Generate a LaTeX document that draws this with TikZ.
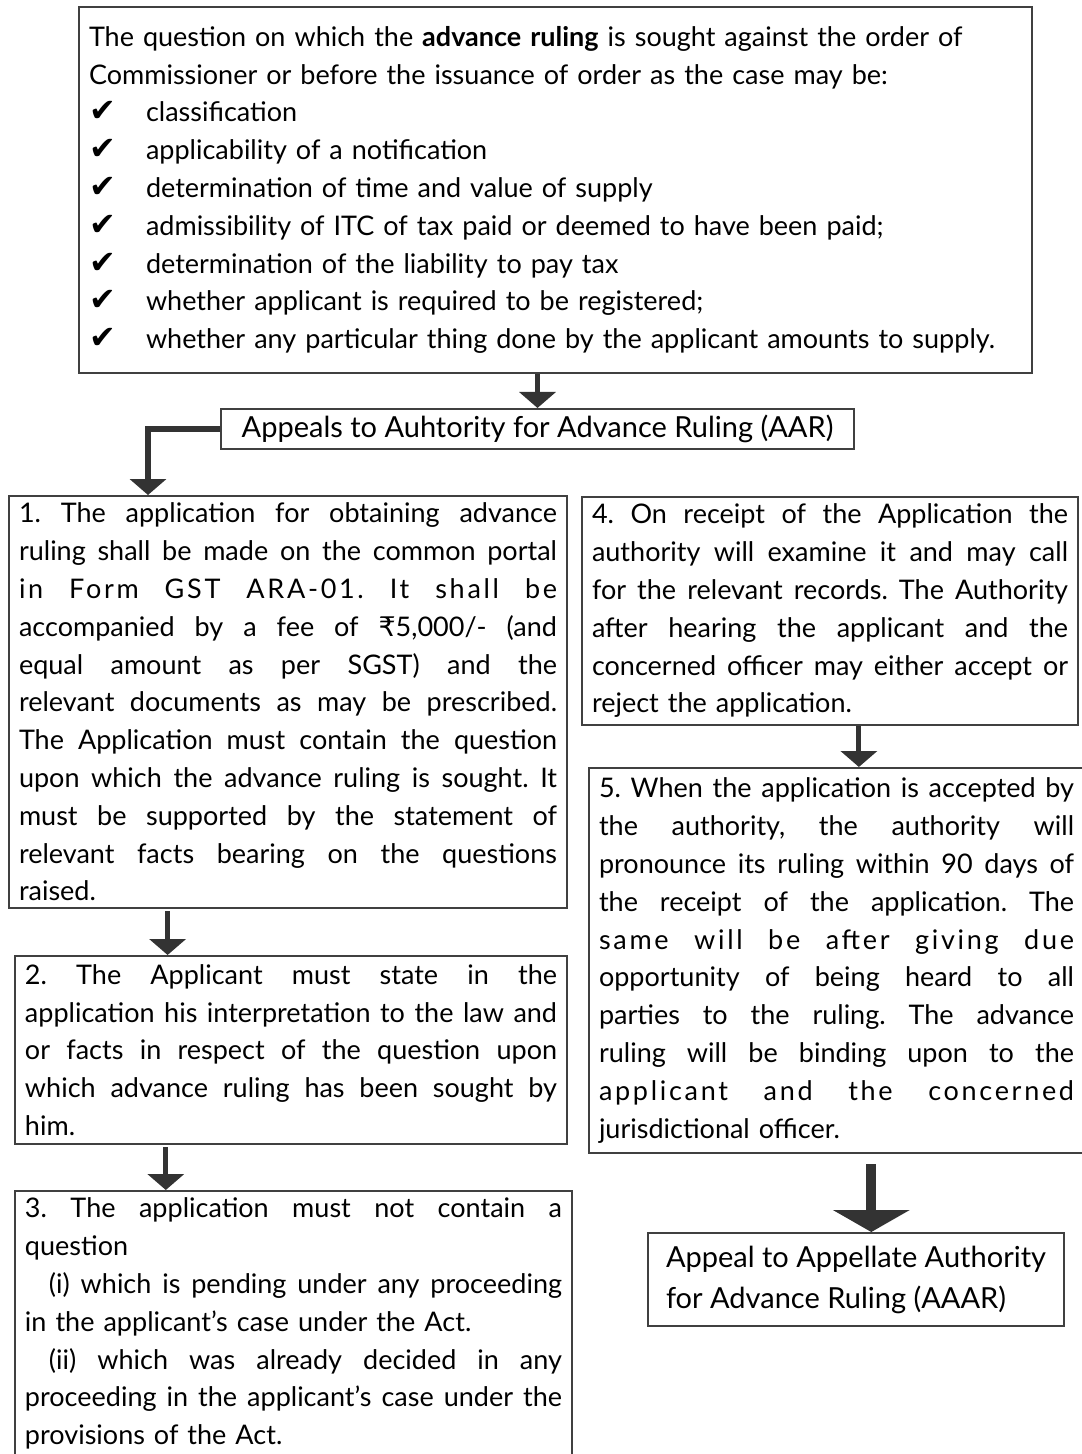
\documentclass[tikz,border=0pt]{standalone}
\usepackage{fontspec}
\setmainfont{Lato}
\newfontfamily\symfont{DejaVu Sans}
\usetikzlibrary{arrows.meta, positioning, calc}
\newcommand{\boxfont}{\fontsize{13.5}{18.9}\selectfont\frenchspacing}
\newcommand{\headfont}{\fontsize{14.5}{20.5}\selectfont}
\newcommand{\fl}[1]{\makebox[\linewidth][s]{\spaceskip=0.28em plus 1fil\relax #1}\\}
\newcommand{\wfl}[1]{\fl{\addfontfeature{LetterSpace=10}#1}}
\newcommand{\tick}[1]{\makebox[28.5pt][l]{\symfont\fontsize{16}{16}\selectfont ✔}#1}
\newcommand{\rupee}{{\symfont ₹}}

\begin{document}
\begin{tikzpicture}[x=0.5pt, y=-0.5pt,
    box/.style={rectangle, draw=black!75, line width=1pt, anchor=north west,
                inner xsep=5pt, inner ysep=3.5pt, align=left, font=\boxfont},
    headbox/.style={box, inner ysep=2pt, font=\headfont},
    arrow/.style={-{Triangle[width=18pt, length=8pt]}, line width=2.6pt, draw=black!80},
    bigarrow/.style={-{Triangle[width=38pt, length=11pt]}, line width=5pt, draw=black!80}
]
\useasboundingbox (0,0) rectangle (1081,1454);
%% Question box
\node[box, text width=466.5pt, minimum height=183pt] (question) at (78,6)
    {The question on which the \textbf{advance ruling} is sought against the order of\\
     Commissioner or before the issuance of order as the case may be:\\
     \tick{classification}\\
     \tick{applicability of a notification}\\
     \tick{determination of time and value of supply}\\
     \tick{admissibility of ITC of tax paid or deemed to have been paid;}\\
     \tick{determination of the liability to pay tax}\\
     \tick{whether applicant is required to be registered;}\\
     \tick{whether any particular thing done by the applicant amounts to supply.}};
%% Authority box
\node[headbox, align=center, minimum width=316.5pt, minimum height=20pt] (aar) at (220,408)
    {Appeals to Auhtority for Advance Ruling (AAR)};
%% Left column
\node[box, text width=269pt, minimum height=206pt] (apply) at (8,495)
    {\fl{1. The application for obtaining advance}
     \fl{ruling shall be made on the common portal}
     \wfl{in Form GST ARA-01. It shall be}
     \fl{accompanied by a fee of \rupee5,000/- (and}
     \fl{equal amount as per SGST) and the}
     \fl{relevant documents as may be prescribed.}
     \fl{The Application must contain the question}
     \fl{upon which the advance ruling is sought. It}
     \fl{must be supported by the statement of}
     \fl{relevant facts bearing on the questions}
     raised.};
\node[box, text width=266pt, minimum height=94pt] (interpret) at (14,955)
    {\fl{2. The Applicant must state in the}
     \fl{application his interpretation to the law and}
     \fl{or facts in respect of the question upon}
     \fl{which advance ruling has been sought by}
     him.};
\node[box, text width=268.5pt] (exclude) at (14,1190)
    {\fl{3. The application must not contain a}
     question\\
     \fl{\hspace*{12pt}(i) which is pending under any proceeding}
     in the applicant’s case under the Act.\\
     \fl{\hspace*{12pt}(ii) which was already decided in any}
     \fl{proceeding in the applicant’s case under the}
     provisions of the Act.};
%% Right column
\node[box, text width=238pt, minimum height=113pt] (examine) at (581,496)
    {\fl{4. On receipt of the Application the}
     \fl{authority will examine it and may call}
     \fl{for the relevant records. The Authority}
     \fl{after hearing the applicant and the}
     \fl{concerned officer may either accept or}
     reject the application.};
\node[box, text width=237.5pt, minimum height=192.5pt] (pronounce) at (588,767)
    {\fl{5. When the application is accepted by}
     \fl{the authority, the authority will}
     \fl{pronounce its ruling within 90 days of}
     \fl{the receipt of the application. The}
     \wfl{same will be after giving due}
     \fl{opportunity of being heard to all}
     \fl{parties to the ruling. The advance}
     \fl{ruling will be binding upon to the}
     \wfl{applicant and the concerned}
     jurisdictional officer.};
\node[headbox, inner ysep=5pt, minimum width=208pt, minimum height=46.5pt] (aaar) at (647,1232)
    {Appeal to Appellate Authority\\ for Advance Ruling (AAAR)};
%% Connectors
\draw[arrow] (aar.north |- question.south) -- (aar.north);
\draw[arrow] (aar.west) -| ($(apply.north west)!0.25!(apply.north east)$);
\coordinate (a1) at ($(apply.south west)!0.285!(apply.south east)$);
\draw[arrow, shorten <=1pt] (a1) -- (a1 |- interpret.north);
\coordinate (a2) at ($(interpret.south west)!0.274!(interpret.south east)$);
\draw[arrow, shorten <=1pt] (a2) -- (a2 |- exclude.north);
\coordinate (a4) at ($(examine.south west)!0.558!(examine.south east)$);
\draw[arrow] (a4) -- (a4 |- pronounce.north);
\coordinate (a5) at ($(pronounce.south west)!0.57!(pronounce.south east)$);
\draw[bigarrow, shorten <=5pt] (a5) -- (a5 |- aaar.north);
\end{tikzpicture}
\end{document}
